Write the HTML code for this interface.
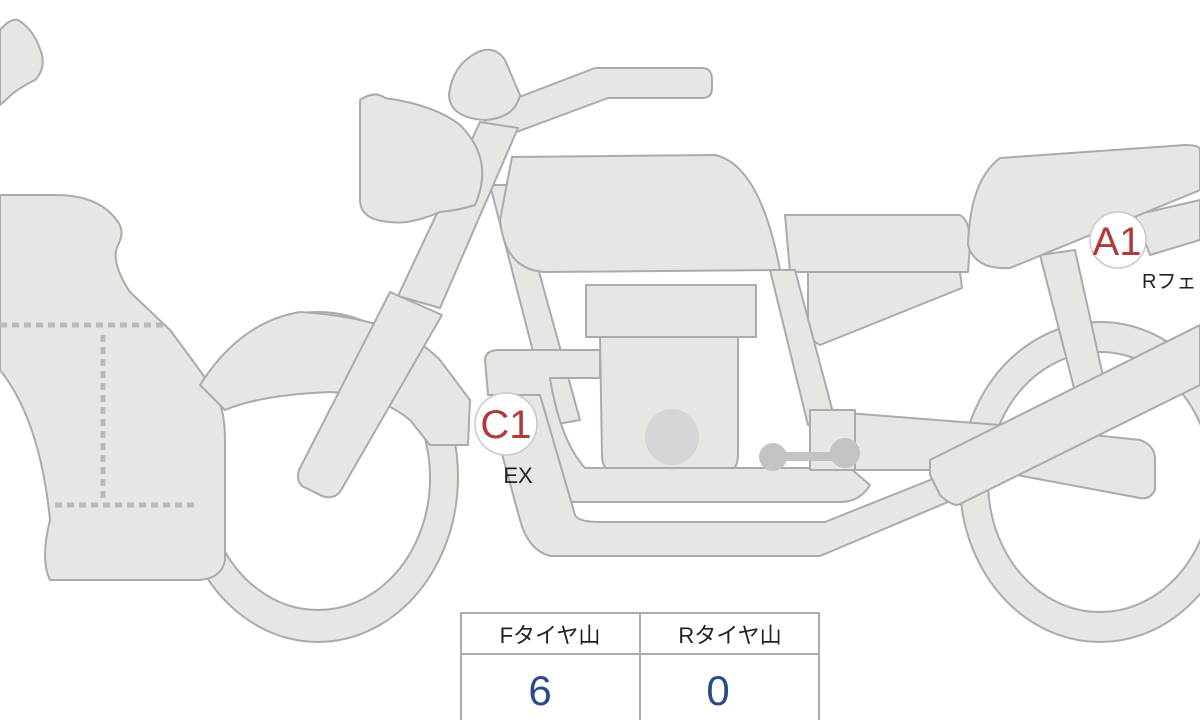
<!DOCTYPE html>
<html><head><meta charset="utf-8"><style>
html,body{margin:0;padding:0;background:#fff;width:1200px;height:720px;overflow:hidden}
svg{display:block}
text{font-family:"Liberation Sans","Noto Sans CJK JP",sans-serif}
</style></head><body>
<svg width="1200" height="720" viewBox="0 0 1200 720" xmlns="http://www.w3.org/2000/svg">
<g fill="#e6e6e3" stroke="#a9abae" stroke-width="2" stroke-linejoin="round">
<path fill-rule="evenodd" d="M318 312 A140 165 0 1 1 317.9 312 Z M318 346 A112 132 0 1 0 318.1 346 Z"/>
<path fill-rule="evenodd" d="M1100 322 A140 160 0 1 1 1099.9 322 Z M1100 352 A112 130 0 1 0 1100.1 352 Z"/>
<path d="M0 195 L55 195 Q100 195 118 222 Q125 232 118 245 Q110 262 130 292 L170 330 Q200 370 215 392 Q225 410 225 440 L225 560 Q222 578 200 580 L50 580 Q40 560 50 520 Q40 420 0 370 Z"/>
<path d="M0 30 Q10 18 18 20 Q35 30 42 55 Q45 70 35 80 Q15 90 8 98 L0 105 Z"/>
<path d="M200 385 Q240 322 300 312 Q400 318 440 360 L470 400 L468 445 L430 445 L410 420 Q380 395 330 392 Q260 395 225 410 Z"/>
<path d="M1040 255 L1075 250 L1105 385 L1075 392 Z"/>
<path d="M1135 215 L1200 200 L1200 240 L1150 255 Z"/>
<path d="M480 112 L595 68 L702 68 Q712 68 712 80 L712 88 Q712 98 702 98 L608 98 L495 140 Z"/>
<path d="M478 52 Q495 45 505 60 L520 95 Q515 118 485 120 Q450 118 449 95 Q452 65 478 52 Z"/>
<!-- frame downtube -->
<path d="M490 185 L515 185 L580 420 L552 425 Z"/>
<!-- fork upper -->
<path d="M480 122 L518 128 L440 308 L398 296 Z"/>
<!-- fork lower -->
<path d="M390 292 L442 315 L340 492 Q333 500 322 496 L302 486 Q296 480 299 470 Z"/>
<path d="M340 100 Q355 90 365 98 Q415 105 440 125 Q475 160 455 205 Q440 210 420 212 Q390 225 370 222 Q340 220 340 200 Z" transform="translate(20,0)"/>
<path d="M512 157 L715 155 Q760 165 780 270 L545 272 Q505 270 500 220 Z"/>
<path d="M808 272 L960 272 L962 288 L820 345 Q808 340 808 320 Z"/>
<path d="M785 215 L960 215 Q970 220 970 245 L968 272 L790 272 Z"/>
<path d="M1000 158 L1185 145 Q1200 145 1200 150 L1200 190 L1010 268 Q975 270 968 245 Q970 180 1000 158 Z"/>
<path d="M770 270 L795 270 L835 420 L808 425 Z"/>
<rect x="586" y="285" width="170" height="52"/>
<path d="M600 337 L738 337 L738 455 Q738 475 718 475 L622 475 Q602 475 602 455 Z"/>
<path d="M485 360 Q485 350 500 350 L600 350 L600 378 L550 378 Q560 440 585 468 L850 468 L870 485 Q860 502 840 502 L570 502 Q545 500 530 460 L510 395 L488 395 Z"/>
<path d="M510 395 L540 395 L575 515 Q578 522 600 522 L825 522 L980 460 L1000 480 L820 556 L550 556 Q528 550 520 520 L490 410 Z"/>
<path d="M810 410 L1000 425 L1140 440 Q1155 445 1155 460 L1155 490 Q1150 500 1140 498 L990 470 L815 470 Z"/>
<rect x="810" y="410" width="45" height="60"/>
<path d="M930 460 L1200 325 L1200 385 L958 505 Q950 505 940 495 L930 475 Z"/>
</g>
<g stroke="#b9bbbd" stroke-width="5" stroke-dasharray="7 5" fill="none">
<path d="M0 325 L165 325"/>
<path d="M103 335 L103 500"/>
<path d="M55 505 L195 505"/>
</g>
<ellipse cx="672" cy="437" rx="27" ry="28" fill="#d6d6d6"/>
<g fill="#c3c3c3"><rect x="775" y="452" width="70" height="9"/><circle cx="773" cy="457" r="14"/><circle cx="845" cy="453" r="15"/></g>
<circle cx="506" cy="424" r="31" fill="#fff" stroke="#c8c8c8" stroke-width="1.5"/>
<text x="506" y="438" font-size="40" fill="#b03a3a" text-anchor="middle">C1</text>
<text x="518" y="483" font-size="22" fill="#222" text-anchor="middle">EX</text>
<circle cx="1118" cy="240" r="28" fill="#fff" stroke="#c8c8c8" stroke-width="1.5"/>
<text x="1117" y="255" font-size="40" fill="#b03a3a" text-anchor="middle">A1</text>
<text x="1142" y="288" font-size="20" fill="#222">Rフェ</text>
<g stroke="#a9abae" stroke-width="2" fill="#fff">
<rect x="461" y="613" width="358" height="110"/>
<line x1="461" y1="654" x2="819" y2="654"/>
<line x1="640" y1="613" x2="640" y2="720"/>
</g>
<text x="550" y="643" font-size="22" fill="#222" text-anchor="middle">Fタイヤ山</text>
<text x="730" y="643" font-size="22" fill="#222" text-anchor="middle">Rタイヤ山</text>
<text x="540" y="705" font-size="42" fill="#2b4a8a" text-anchor="middle">6</text>
<text x="718" y="705" font-size="42" fill="#2b4a8a" text-anchor="middle">0</text>
</svg>
</body></html>
